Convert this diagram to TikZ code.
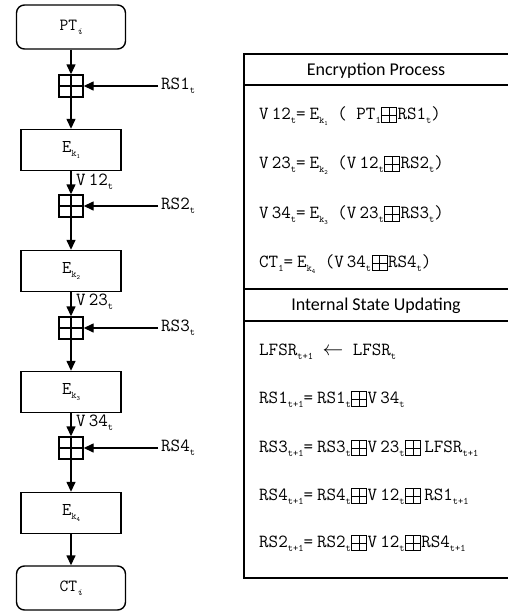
\documentclass[tikz,border=0pt]{standalone}
\usepackage{fontspec}
\newfontfamily\hdrfont{Carlito}
\usetikzlibrary{arrows.meta}
\newcommand{\sbt}[1]{\raisebox{-0.55ex}{\fontsize{10}{10}\selectfont #1}}
\newcommand{\ksub}[1]{\raisebox{-0.55ex}{\fontsize{10}{10}\selectfont k\raisebox{-0.45ex}{\fontsize{6.5}{6.5}\selectfont #1}}}
\newcommand{\bplus}{\hspace{0.5pt}\tikz[baseline=3.5pt,x=1pt,y=1pt,line width=0.8pt]{\draw (0,0) rectangle (15,15); \draw (7.5,0)--(7.5,15) (0,7.5)--(15,7.5);}\hspace{0.5pt}}
\newcommand{\eqsp}{\hspace{4pt}}
\tikzset{
  term/.style={draw, rounded corners=8pt, line width=1.4pt, minimum width=109pt, minimum height=44pt, inner sep=0pt, font=\ttfamily\fontsize{17}{17}\selectfont},
  ebox/.style={draw, line width=1.4pt, minimum width=100pt, minimum height=41pt, inner sep=0pt, font=\ttfamily\fontsize{18}{18}\selectfont},
  xorbox/.style={draw, line width=1.4pt, minimum width=24pt, minimum height=22pt, inner sep=0pt,
    path picture={\draw[line width=1.4pt] (path picture bounding box.north)--(path picture bounding box.south) (path picture bounding box.west)--(path picture bounding box.east);}},
  arr/.style={-{Triangle[length=10pt,width=9pt]}, line width=1.4pt},
  rslbl/.style={font=\ttfamily\fontsize{18.5}{18.5}\selectfont, inner sep=3pt, anchor=west},
  vlbl/.style={font=\ttfamily\fontsize{18.5}{18.5}\selectfont, inner sep=0pt, anchor=west},
  eqn/.style={font=\ttfamily\fontsize{18.5}{18.5}\selectfont, inner sep=0pt, anchor=base west},
  hdr/.style={font=\hdrfont\fontsize{18}{18}\selectfont, inner sep=0pt},
  panel/.style={line width=1.8pt},
}
\begin{document}
\begin{tikzpicture}[x=1pt,y=-1pt]
\useasboundingbox (0,0) rectangle (508,614);
% left flow
\node[term] (pt) at (71,27) {PT\sbt{\textit{i}}};
\node[xorbox] (x1) at (71,86) {};
\node[ebox] (e1) at (71,150) {E\ksub{1}};
\node[xorbox] (x2) at (71,206) {};
\node[ebox] (e2) at (71,271) {E\ksub{2}};
\node[xorbox] (x3) at (71,328) {};
\node[ebox] (e3) at (71,392) {E\ksub{3}};
\node[xorbox] (x4) at (71,448) {};
\node[ebox] (e4) at (71,513) {E\ksub{4}};
\node[term] (ct) at (71,588) {CT\sbt{\textit{i}}};
\draw[arr] (pt) -- (x1);
\draw[arr] (x1) -- (e1);
\draw[arr] (e1) -- (x2);
\draw[arr] (x2) -- (e2);
\draw[arr] (e2) -- (x3);
\draw[arr] (x3) -- (e3);
\draw[arr] (e3) -- (x4);
\draw[arr] (x4) -- (e4);
\draw[arr] (e4) -- (ct);
\node[rslbl] (rs1) at (158,86) {RS1\sbt{t}};
\node[rslbl] (rs2) at (158,206) {RS2\sbt{t}};
\node[rslbl] (rs3) at (158,328) {RS3\sbt{t}};
\node[rslbl] (rs4) at (158,448) {RS4\sbt{t}};
\draw[arr] (rs1.west) -- (x1.east);
\draw[arr] (rs2.west) -- (x2.east);
\draw[arr] (rs3.west) -- (x3.east);
\draw[arr] (rs4.west) -- (x4.east);
\node[vlbl] (v12) at (76,182) {V\,12\sbt{t}};
\node[vlbl] (v23) at (76,302) {V\,23\sbt{t}};
\node[vlbl] (v34) at (76,423) {V\,34\sbt{t}};
% right panel
\draw[panel] (510,54) -- (244,54) -- (244,578) -- (510,578);
\draw[panel] (244,85) -- (510,85);
\draw[panel] (244,289) -- (510,289);
\draw[panel] (244,321) -- (510,321);
\node[hdr] (h1) at (376,71) {Encryption Process};
\node[hdr] (h2) at (376,306) {Internal State Updating};
\node[eqn] (q1) at (259,119) {V\,12\sbt{t}=\eqsp E\ksub{1} ( PT\sbt{1}\bplus RS1\sbt{t})};
\node[eqn] (q2) at (259,168) {V\,23\sbt{t}=\eqsp E\ksub{2} (V\,12\sbt{t}\bplus RS2\sbt{t})};
\node[eqn] (q3) at (259,218) {V\,34\sbt{t}=\eqsp E\ksub{3} (V\,23\sbt{t}\bplus RS3\sbt{t})};
\node[eqn] (q4) at (259,267) {CT\sbt{1}=\eqsp E\ksub{4} (V\,34\sbt{t}\bplus RS4\sbt{t})};
\node[eqn] (q5) at (259,355) {LFSR\sbt{t+1} {\fontsize{20}{20}\selectfont$\leftarrow$} LFSR\sbt{t}};
\node[eqn] (q6) at (259,403) {RS1\sbt{t+1}=\eqsp RS1\sbt{t}\bplus V\,34\sbt{t}};
\node[eqn] (q7) at (259,452) {RS3\sbt{t+1}=\eqsp RS3\sbt{t}\bplus V\,23\sbt{t}\bplus\hspace{3pt}LFSR\sbt{t+1}};
\node[eqn] (q8) at (259,500) {RS4\sbt{t+1}=\eqsp RS4\sbt{t}\bplus V\,12\sbt{t}\bplus\hspace{3pt}RS1\sbt{t+1}};
\node[eqn] (q9) at (259,547) {RS2\sbt{t+1}=\eqsp RS2\sbt{t}\bplus V\,12\sbt{t}\bplus RS4\sbt{t+1}};
\end{tikzpicture}
\end{document}
